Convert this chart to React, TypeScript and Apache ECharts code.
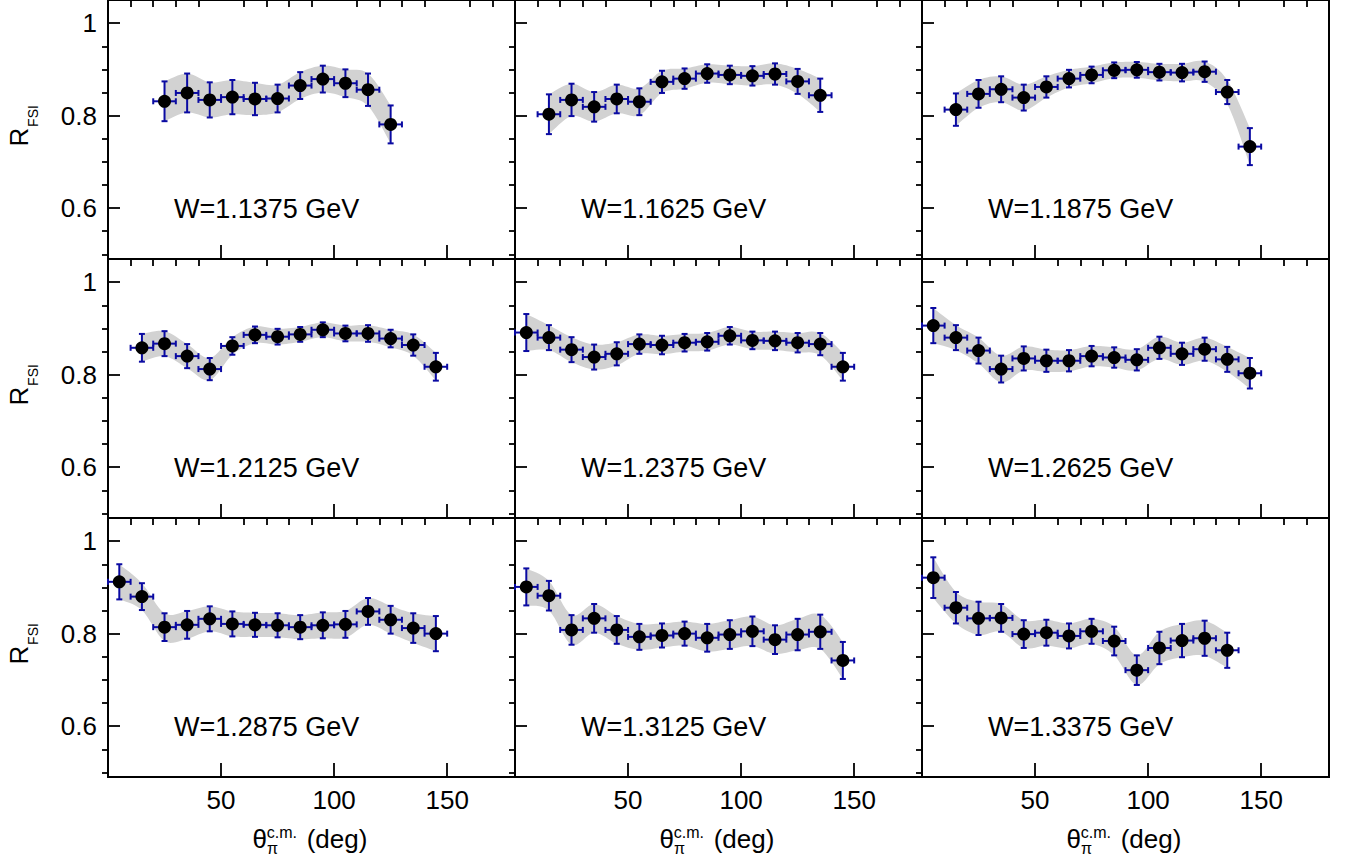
import React, { useEffect, useRef } from "react";
import * as echarts from "echarts";

const FONT = "'Liberation Sans', Arial, Helvetica, sans-serif";
const ERR_COLOR = "#0a0aa2";
const BAND_COLOR = "#d2d2d2";

// tick positions
const X_MAJOR = [50, 100, 150];
const X_MINOR = [10, 20, 30, 40, 60, 70, 80, 90, 110, 120, 130, 140, 160, 170];
const Y_MAJOR = [0.6, 0.8, 1];
const Y_MINOR = [0.5, 0.55, 0.65, 0.7, 0.75, 0.85, 0.9, 0.95];

const W_LABELS = [
    "W=1.1375 GeV",
    "W=1.1625 GeV",
    "W=1.1875 GeV",
    "W=1.2125 GeV",
    "W=1.2375 GeV",
    "W=1.2625 GeV",
    "W=1.2875 GeV",
    "W=1.3125 GeV",
    "W=1.3375 GeV",
];

// W = 1.1375
const THETA_1 = [25, 35, 45, 55, 65, 75, 85, 95, 105, 115, 125];
const R_1 = [0.831, 0.849, 0.834, 0.84, 0.836, 0.837, 0.865, 0.879, 0.87, 0.856, 0.781];
const ERR_1 = [0.043, 0.042, 0.038, 0.037, 0.035, 0.03, 0.029, 0.029, 0.03, 0.035, 0.041];

// W = 1.1625
const THETA_2 = [15, 25, 35, 45, 55, 65, 75, 85, 95, 105, 115, 125, 135];
const R_2 = [0.803, 0.834, 0.819, 0.836, 0.83, 0.873, 0.88, 0.891, 0.888, 0.886, 0.89, 0.874, 0.844];
const ERR_2 = [0.043, 0.035, 0.032, 0.031, 0.029, 0.024, 0.022, 0.02, 0.02, 0.021, 0.023, 0.027, 0.036];

// W = 1.1875
const THETA_3 = [15, 25, 35, 45, 55, 65, 75, 85, 95, 105, 115, 125, 135, 145];
const R_3 = [0.813, 0.847, 0.857, 0.839, 0.862, 0.88, 0.888, 0.898, 0.899, 0.894, 0.893, 0.895, 0.851, 0.733];
const ERR_3 = [0.035, 0.03, 0.028, 0.028, 0.023, 0.019, 0.018, 0.017, 0.017, 0.018, 0.019, 0.022, 0.026, 0.04];

// W = 1.2125
const THETA_4 = [15, 25, 35, 45, 55, 65, 75, 85, 95, 105, 115, 125, 135, 145];
const R_4 = [0.858, 0.867, 0.84, 0.812, 0.862, 0.886, 0.882, 0.887, 0.897, 0.889, 0.889, 0.878, 0.864, 0.817];
const ERR_4 = [0.03, 0.027, 0.026, 0.024, 0.019, 0.018, 0.017, 0.016, 0.016, 0.017, 0.018, 0.019, 0.023, 0.03];

// W = 1.2375
const THETA_5 = [5, 15, 25, 35, 45, 55, 65, 75, 85, 95, 105, 115, 125, 135, 145];
const R_5 = [0.891, 0.88, 0.854, 0.838, 0.845, 0.866, 0.864, 0.869, 0.871, 0.884, 0.874, 0.873, 0.869, 0.866, 0.817];
const ERR_5 = [0.04, 0.027, 0.027, 0.027, 0.025, 0.021, 0.02, 0.019, 0.019, 0.019, 0.019, 0.02, 0.021, 0.024, 0.03];

// W = 1.2625
const THETA_6 = [5, 15, 25, 35, 45, 55, 65, 75, 85, 95, 105, 115, 125, 135, 145];
const R_6 = [0.906, 0.88, 0.852, 0.812, 0.835, 0.83, 0.83, 0.84, 0.837, 0.832, 0.858, 0.845, 0.855, 0.833, 0.803];
const ERR_6 = [0.038, 0.027, 0.028, 0.029, 0.026, 0.024, 0.023, 0.022, 0.022, 0.023, 0.024, 0.024, 0.025, 0.027, 0.033];

// W = 1.2875
const THETA_7 = [5, 15, 25, 35, 45, 55, 65, 75, 85, 95, 105, 115, 125, 135, 145];
const R_7 = [0.912, 0.88, 0.814, 0.819, 0.832, 0.821, 0.819, 0.818, 0.814, 0.818, 0.82, 0.848, 0.83, 0.812, 0.8];
const ERR_7 = [0.038, 0.029, 0.03, 0.03, 0.027, 0.027, 0.026, 0.026, 0.026, 0.028, 0.029, 0.029, 0.03, 0.032, 0.038];

// W = 1.3125
const THETA_8 = [5, 15, 25, 35, 45, 55, 65, 75, 85, 95, 105, 115, 125, 135, 145];
const R_8 = [0.901, 0.882, 0.808, 0.833, 0.808, 0.793, 0.796, 0.8, 0.791, 0.798, 0.805, 0.787, 0.798, 0.804, 0.742];
const ERR_8 = [0.04, 0.032, 0.032, 0.031, 0.03, 0.028, 0.026, 0.026, 0.03, 0.031, 0.032, 0.031, 0.034, 0.037, 0.04];

// W = 1.3375
const THETA_9 = [5, 15, 25, 35, 45, 55, 65, 75, 85, 95, 105, 115, 125, 135];
const R_9 = [0.921, 0.856, 0.833, 0.834, 0.799, 0.802, 0.795, 0.805, 0.784, 0.721, 0.769, 0.785, 0.79, 0.764];
const ERR_9 = [0.044, 0.034, 0.036, 0.03, 0.03, 0.028, 0.027, 0.027, 0.031, 0.032, 0.035, 0.036, 0.038, 0.038];

const PANELS = [
    { theta: THETA_1, r: R_1, err: ERR_1 },
    { theta: THETA_2, r: R_2, err: ERR_2 },
    { theta: THETA_3, r: R_3, err: ERR_3 },
    { theta: THETA_4, r: R_4, err: ERR_4 },
    { theta: THETA_5, r: R_5, err: ERR_5 },
    { theta: THETA_6, r: R_6, err: ERR_6 },
    { theta: THETA_7, r: R_7, err: ERR_7 },
    { theta: THETA_8, r: R_8, err: ERR_8 },
    { theta: THETA_9, r: R_9, err: ERR_9 },
];

// layout of the 3x3 grid
const COL_LEFT = [108, 515, 922];
const ROW_TOP = [0, 259, 518];
const PANEL_W = 407;
const PANEL_H = 259;

const tickStyle = { color: "#000", width: 1.8 };
const labelStyle = { color: "#000", fontSize: 26, fontFamily: FONT };

// catmull-rom style smoothing of a pixel polyline (drawing only)
const smoothPath = (pts: number[][], steps = 8): number[][] => {
    const out: number[][] = [];
    const n = pts.length;
    for (let i = 0; i < n - 1; i++) {
        const p0 = pts[Math.max(i - 1, 0)];
        const p1 = pts[i];
        const p2 = pts[i + 1];
        const p3 = pts[Math.min(i + 2, n - 1)];
        const c1 = [p1[0] + (p2[0] - p0[0]) / 6, p1[1] + (p2[1] - p0[1]) / 6];
        const c2 = [p2[0] - (p3[0] - p1[0]) / 6, p2[1] - (p3[1] - p1[1]) / 6];
        for (let s = 0; s < steps; s++) {
            const t = s / steps;
            const u = 1 - t;
            out.push([
                u * u * u * p1[0] + 3 * u * u * t * c1[0] + 3 * u * t * t * c2[0] + t * t * t * p2[0],
                u * u * u * p1[1] + 3 * u * u * t * c1[1] + 3 * u * t * t * c2[1] + t * t * t * p2[1],
            ]);
        }
    }
    out.push(pts[n - 1]);
    return out;
};

const App: React.FC = () => {
    const chartRef = useRef<HTMLDivElement>(null);

    useEffect(() => {
        document.body.style.margin = "0";
        const chart = echarts.init(chartRef.current!, null, { renderer: "svg" });

        const grids: any[] = [];
        const xAxes: any[] = [];
        const yAxes: any[] = [];
        const series: any[] = [];
        const graphics: any[] = [];

        PANELS.forEach((p, i) => {
            const row = Math.floor(i / 3);
            const col = i % 3;
            grids.push({
                left: COL_LEFT[col],
                top: ROW_TOP[row],
                width: PANEL_W,
                height: PANEL_H,
                show: true,
                borderColor: "#000",
                borderWidth: 2,
                backgroundColor: "transparent",
            });

            // major + minor x axes
            xAxes.push({
                type: "value",
                gridIndex: i,
                min: 0,
                max: 180,
                axisLine: { show: true, lineStyle: { color: "#000", width: 2 } },
                splitLine: { show: false },
                axisTick: { show: true, inside: true, length: 14, customValues: X_MAJOR, lineStyle: tickStyle },
                axisLabel: { show: row === 2, customValues: X_MAJOR, margin: 10, ...labelStyle },
            });
            xAxes.push({
                type: "value",
                gridIndex: i,
                min: 0,
                max: 180,
                axisLine: { show: false },
                splitLine: { show: false },
                axisTick: { show: true, inside: true, length: 7, customValues: X_MINOR, lineStyle: tickStyle },
                axisLabel: { show: false },
            });

            // major + minor y axes
            yAxes.push({
                type: "value",
                gridIndex: i,
                min: 0.49,
                max: 1.05,
                axisLine: { show: true, lineStyle: { color: "#000", width: 2 } },
                splitLine: { show: false },
                axisTick: { show: true, inside: true, length: 12, customValues: Y_MAJOR, lineStyle: tickStyle },
                axisLabel: { show: col === 0, customValues: Y_MAJOR, margin: 11, ...labelStyle },
            });
            yAxes.push({
                type: "value",
                gridIndex: i,
                min: 0.49,
                max: 1.05,
                axisLine: { show: false },
                splitLine: { show: false },
                axisTick: { show: true, inside: true, length: 6, customValues: Y_MINOR, lineStyle: tickStyle },
                axisLabel: { show: false },
            });

            const axisIdx = { xAxisIndex: 2 * i, yAxisIndex: 2 * i };

            // grey band r ± err, drawn once per panel
            series.push({
                type: "custom",
                ...axisIdx,
                data: p.theta.map((t, k) => [t, p.r[k] - p.err[k], p.r[k] + p.err[k]]),
                encode: { x: 0, y: [1, 2] },
                silent: true,
                z: 1,
                renderItem: (params: any, api: any) => {
                    if (params.dataIndex !== 0) return null;
                    const upper = p.theta.map((t, k) => api.coord([t, p.r[k] + p.err[k]]));
                    const lower = p.theta.map((t, k) => api.coord([t, p.r[k] - p.err[k]]));
                    const pts = smoothPath(upper).concat(smoothPath(lower).reverse());
                    return {
                        type: "polygon",
                        shape: { points: pts },
                        style: { fill: BAND_COLOR, stroke: "none" },
                    };
                },
            });

            // error bars
            series.push({
                type: "custom",
                ...axisIdx,
                data: p.theta.map((t, k) => [t, p.r[k], p.err[k]]),
                encode: { x: 0, y: 1 },
                silent: true,
                z: 3,
                renderItem: (_params: any, api: any) => {
                    const x = api.value(0);
                    const y = api.value(1);
                    const e = api.value(2);
                    const top = api.coord([x, y + e]);
                    const bot = api.coord([x, y - e]);
                    const lft = api.coord([x - 5, y]);
                    const rgt = api.coord([x + 5, y]);
                    const cap = 3;
                    const style = { stroke: ERR_COLOR, lineWidth: 2 };
                    const seg = (x1: number, y1: number, x2: number, y2: number) => ({
                        type: "line",
                        shape: { x1, y1, x2, y2 },
                        style,
                    });
                    return {
                        type: "group",
                        children: [
                            seg(top[0], top[1], bot[0], bot[1]),
                            seg(top[0] - cap, top[1], top[0] + cap, top[1]),
                            seg(bot[0] - cap, bot[1], bot[0] + cap, bot[1]),
                            seg(lft[0], lft[1], rgt[0], rgt[1]),
                            seg(lft[0], lft[1] - cap, lft[0], lft[1] + cap),
                            seg(rgt[0], rgt[1] - cap, rgt[0], rgt[1] + cap),
                        ],
                    };
                },
            });

            // points
            series.push({
                type: "scatter",
                ...axisIdx,
                data: p.theta.map((t, k) => [t, p.r[k]]),
                symbol: "circle",
                symbolSize: 13,
                itemStyle: { color: "#000", opacity: 1 },
                z: 5,
                silent: true,
            });

            // W label
            graphics.push({
                type: "text",
                x: COL_LEFT[col] + 66,
                y: ROW_TOP[row] + 209,
                z: 10,
                style: {
                    text: W_LABELS[i],
                    fontSize: 27,
                    fontFamily: FONT,
                    fill: "#000",
                    align: "left",
                    verticalAlign: "middle",
                },
            });
        });

        // y titles R_FSI
        ROW_TOP.forEach((top) => {
            graphics.push({
                type: "text",
                x: 19,
                y: top + 137,
                rotation: Math.PI / 2,
                style: { text: "R", fontSize: 26, fontFamily: FONT, fill: "#000", align: "center", verticalAlign: "middle" },
            });
            graphics.push({
                type: "text",
                x: 33,
                y: top + 116,
                rotation: Math.PI / 2,
                style: { text: "FSI", fontSize: 14, fontFamily: FONT, fill: "#000", align: "center", verticalAlign: "middle" },
            });
        });

        // x titles theta_pi^{c.m.} (deg)
        COL_LEFT.forEach((left) => {
            const cx = left + PANEL_W / 2;
            const txt = (text: string, dx: number, y: number, size: number) => ({
                type: "text",
                x: cx + dx,
                y,
                style: { text, fontSize: size, fontFamily: FONT, fill: "#000", align: "left", verticalAlign: "middle" },
            });
            graphics.push(txt("θ", -59, 839, 26));
            graphics.push(txt("c.m.", -44.8, 832, 16));
            graphics.push(txt("π", -44.5, 848, 16));
            graphics.push(txt("(deg)", -4.8, 839, 26));
        });

        chart.setOption({
            animation: false,
            grid: grids,
            xAxis: xAxes,
            yAxis: yAxes,
            series,
            graphic: graphics,
        });

        const resize = () => chart.resize();
        window.addEventListener("resize", resize);
        return () => {
            chart.dispose();
            window.removeEventListener("resize", resize);
        };
    }, []);

    return <div ref={chartRef} style={{ width: "1348px", height: "864px" }} />;
};

export default App;
